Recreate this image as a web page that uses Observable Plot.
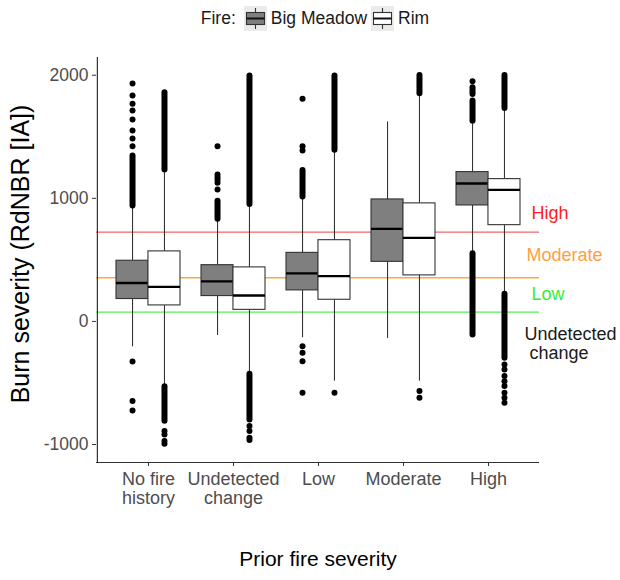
<!DOCTYPE html>
<html>
<head>
<meta charset="utf-8">
<script src="https://cdn.jsdelivr.net/npm/d3@7"></script>
<script src="https://cdn.jsdelivr.net/npm/@observablehq/plot@0.6"></script>
<style>
  html, body { margin: 0; padding: 0; background: #fff; }
  body { width: 620px; font-family: "Liberation Sans", Arial, sans-serif; }
  #legend { height: 36px; display: flex; align-items: center; justify-content: center; gap: 4px; font-size: 17.5px; color: #1a1a1a; padding-left: 10px; }
  #legend .item { display: flex; align-items: center; gap: 4px; }
  #legend .title { margin-right: 4px; }
</style>
</head>
<body>
<div id="legend"></div>
<div id="chart"></div>
<script>
// ---- data ----
const categories = ["No fire history", "Undetected change", "Low", "Moderate", "High"];
const xTickLabels = ["No fire\nhistory", "Undetected\nchange", "Low", "Moderate", "High"];
const fires = ["Big Meadow", "Rim"];
const fireFills = ["#7f7f7f", "#ffffff"];

const bmQ1 = [182, 206, 252, 484, 942];
const bmMedian = [312, 325, 390, 752, 1121];
const bmQ3 = [493, 457, 557, 991, 1213];
const bmLower = [-206, -114, -133, -138, 549];
const bmUpper = [930, 820, 999, 1621, 1605];

const rimQ1 = [130, 94, 176, 374, 782];
const rimMedian = [281, 211, 368, 679, 1069];
const rimQ3 = [569, 439, 660, 959, 1156];
const rimLower = [-512, -418, -485, -485, 240];
const rimUpper = [1207, 931, 1370, 1830, 1708];

// single outliers per category
const bmOutliers = [
  [1424, 1487, 1552, 1641, 1714, 1768, 1836, 1933, -325, -647, -723],
  [1072, 1126, 1150, 1172, 1194, 1424],
  [1389, 1424, 1808, -201, -255, -323, -580],
  [],
  [1952]
];
const rimOutliers = [
  [-891, -918, -972, -994],
  [-850, -891, -945, -964],
  [-580],
  [-566, -621],
  [-350, -390, -444, -485, -525, -580, -621, -661]
];
// runs of overplotted outliers [low, high] per category
const bmOutlierRuns = [
  [[937, 1343]],
  [[830, 977]],
  [[1010, 1227]],
  [],
  [[1627, 1790], [1844, 1898], [-111, 549]]
];
const rimOutlierRuns = [
  [[1230, 1857], [-810, -530]],
  [[950, 1993], [-800, -430]],
  [[1390, 1993]],
  [[1850, 1998]],
  [[1730, 1998], [-300, 220]]
];

const thresholdValues = [725, 355, 75];
const thresholdColors = ["#f46464", "#ffa83c", "#55ee55"];
const annLabels = ["High", "Moderate", "Low", "Undetected\n\u00a0change"];
const annY = [883, 535, 218, -180];
const annColors = ["#ff2020", "#ffa040", "#33ee33", "#1a1a1a"];
const annShift = [-8, -13, -8, -15];

const yTicks = [-1000, 0, 1000, 2000];
const yDomain = [-1146, 2144];

// ---- build tables ----
function boxes(q1, med, q3, lo, hi) {
  return categories.map((c, i) => ({cat: c, q1: q1[i], med: med[i], q3: q3[i], lo: lo[i], hi: hi[i]}));
}
const bmBoxes = boxes(bmQ1, bmMedian, bmQ3, bmLower, bmUpper);
const rimBoxes = boxes(rimQ1, rimMedian, rimQ3, rimLower, rimUpper);
const pts = (arr) => arr.flatMap((vs, i) => vs.map(v => ({cat: categories[i], v})));
const runs = (arr) => arr.flatMap((rs, i) => rs.map(([a, b]) => ({cat: categories[i], lo: a, hi: b})));

// ---- layout ----
const W = 620, H = 544, mL = 96, mR = 81, mT = 21, mB = 118;
const pIn = 0.25, pOut = 0.225;
const step = (W - mL - mR) / (categories.length - pIn + 2 * pOut);
const half = step * (1 - pIn) / 2;   // width of one dodged box
const off = half / 2;                  // centre offset of each dodged box

function fireMarks(data, outl, rns, fill, side) {
  const ins = side < 0 ? {insetRight: half} : {insetLeft: half};
  const dx = side * off;
  return [
    Plot.ruleX(data, {x: "cat", y1: "lo", y2: "q1", dx, stroke: "#333", strokeWidth: 1.1}),
    Plot.ruleX(data, {x: "cat", y1: "q3", y2: "hi", dx, stroke: "#333", strokeWidth: 1.1}),
    Plot.ruleX(runs(rns), {x: "cat", y1: "lo", y2: "hi", dx, stroke: "black", strokeWidth: 6, strokeLinecap: "round"}),
    Plot.dot(pts(outl), {x: "cat", y: "v", dx, r: 3, fill: "black", stroke: "none"}),
    Plot.barY(data, {x: "cat", y1: "q1", y2: "q3", fill, stroke: "#333", strokeWidth: 1.1, ...ins}),
    Plot.tickY(data, {x: "cat", y: "med", stroke: "black", strokeWidth: 2.4, ...ins})
  ];
}

const chart = Plot.plot({
  width: W, height: H,
  marginLeft: mL, marginRight: mR, marginTop: mT, marginBottom: mB,
  style: {fontFamily: "'Liberation Sans', Arial, sans-serif", background: "#fff"},
  x: {type: "band", domain: categories, paddingInner: pIn, paddingOuter: pOut, axis: null},
  y: {domain: yDomain, axis: null},
  marks: [
    ...thresholdValues.map((v, i) => Plot.ruleY([v], {stroke: thresholdColors[i], strokeWidth: 1.3})),
    ...fireMarks(bmBoxes, bmOutliers, bmOutlierRuns, fireFills[0], -1),
    ...fireMarks(rimBoxes, rimOutliers, rimOutlierRuns, fireFills[1], 1),
    // axis lines (theme_classic)
    Plot.ruleY([yDomain[0]], {stroke: "#333", strokeWidth: 1.2}),
    Plot.ruleX([categories[0]], {x: d => d, dx: -(pOut + (1 - pIn) / 2) * step, y1: yDomain[0], y2: yDomain[1], stroke: "#333", strokeWidth: 1.2}),
    Plot.axisY({ticks: yTicks, tickSize: 4, tickPadding: 4, fontSize: 17.5, stroke: "#333", fill: "#4d4d4d", label: null, tickFormat: d => String(d)}),
    Plot.axisX({tickSize: 4, tickPadding: 4, fontSize: 18, lineHeight: 1.1, stroke: "#333", fill: "#4d4d4d", label: null,
      tickFormat: d => xTickLabels[categories.indexOf(d)]}),
    ...annLabels.map((t, i) => Plot.text([t], {text: d => d, y: () => annY[i], frameAnchor: "right", dx: annShift[i], textAnchor: "start", lineHeight: 1.02, fill: annColors[i], fontSize: 18})),
    Plot.text(["Burn severity (RdNBR [IA])"], {text: d => d, frameAnchor: "left", textAnchor: "middle", rotate: -90, dx: -76, dy: -6, fontSize: 25, fill: "black"}),
    Plot.text(["Prior fire severity"], {text: d => d, frameAnchor: "bottom", textAnchor: "middle", dy: 103, fontSize: 21, fill: "black"})
  ]
});
document.getElementById("chart").appendChild(chart);

// ---- legend ----
const legend = document.getElementById("legend");
const title = document.createElement("span");
title.className = "title";
title.textContent = "Fire:";
legend.appendChild(title);
fires.forEach((f, i) => {
  const item = document.createElement("span");
  item.className = "item";
  item.innerHTML = `<svg width="23" height="25" viewBox="0 0 23 25">
    <rect x="0" y="0" width="23" height="25" fill="#ebebeb"/>
    <line x1="11.5" y1="2" x2="11.5" y2="23" stroke="#333" stroke-width="1.1"/>
    <rect x="2.5" y="6.5" width="18" height="12" fill="${fireFills[i]}" stroke="#333" stroke-width="1.1"/>
    <line x1="2.5" y1="12.5" x2="20.5" y2="12.5" stroke="#111" stroke-width="2"/>
  </svg><span>${f}</span>`;
  legend.appendChild(item);
});
</script>
</body>
</html>
